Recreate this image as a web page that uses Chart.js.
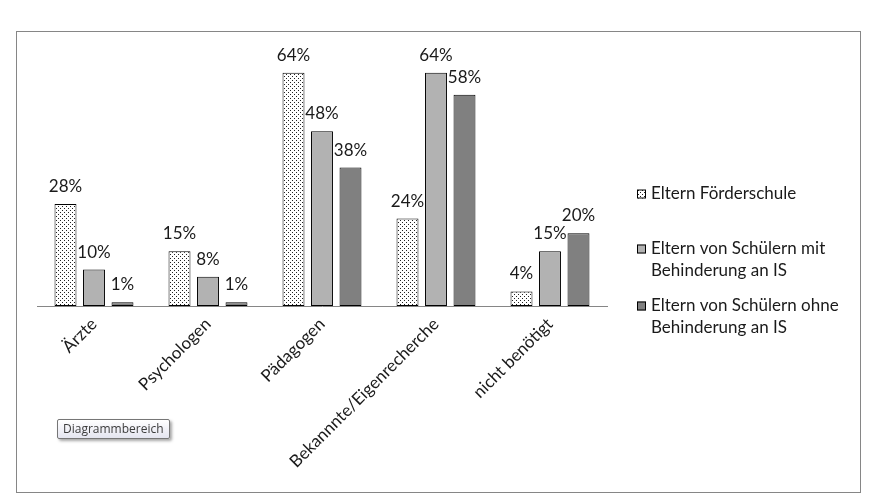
<!DOCTYPE html>
<html>
<head>
<meta charset="utf-8">
<script src="https://cdn.jsdelivr.net/npm/chart.js@4.4.1/dist/chart.umd.min.js"></script>
<style>
  html, body { margin: 0; padding: 0; background: #fff; }
  #wrap { position: relative; width: 873px; height: 501px; }
  #frame { position: absolute; left: 16px; top: 31px; width: 843px; height: 460px; border: 1px solid #868686; }
  #chart { position: absolute; left: 0; top: 0; }
  #tip {
    position: absolute; left: 57px; top: 419px; height: 18px; padding: 0 5px;
    font: 12px "Open Sans", sans-serif; line-height: 18px; color: #3c3c3c;
    border: 1px solid #767676; border-radius: 2px;
    background: linear-gradient(#ffffff, #e4e5f0);
    box-shadow: 2px 2px 3px rgba(0,0,0,0.35);
  }
</style>
</head>
<body>
<div id="wrap">
  <div id="frame"></div>
  <canvas id="chart" width="873" height="501"></canvas>
  <div id="tip">Diagrammbereich</div>
</div>
<script>
'use strict';

// ── Data ────────────────────────────────────────────────────────────────
const categories = ['Ärzte', 'Psychologen', 'Pädagogen', 'Bekannnte/Eigenrecherche', 'nicht benötigt'];
const seriesNames = [
    'Eltern Förderschule',
    'Eltern von Schülern mit Behinderung an IS',
    'Eltern von Schülern ohne Behinderung an IS'
];
const foerderschule = [28, 15, 64, 24, 4];
const mitBehinderung = [10, 8, 48, 64, 15];
const ohneBehinderung = [1, 1, 38, 58, 20];

const FONT = 'Lato, "Open Sans", sans-serif';
const FONT_SIZE = 17;

// fine dotted fill (Excel 5% pattern)
function makeDots() {
    const c = document.createElement('canvas');
    c.width = 4; c.height = 4;
    const g = c.getContext('2d');
    g.fillStyle = '#fff';
    g.fillRect(0, 0, 4, 4);
    g.fillStyle = '#222';
    g.fillRect(0, 0, 1, 1);
    g.fillRect(2, 2, 1, 1);
    return g.createPattern(c, 'repeat');
}
const dots = makeDots();

// ── Plugins ─────────────────────────────────────────────────────────────
const valueLabels = {
    id: 'valueLabels',
    afterDatasetsDraw(chart) {
        const ctx = chart.ctx;
        ctx.save();
        ctx.font = `${FONT_SIZE}px ${FONT}`;
        ctx.fillStyle = '#1a1a1a';
        ctx.textAlign = 'center';
        ctx.textBaseline = 'alphabetic';
        chart.data.datasets.forEach((ds, i) => {
            chart.getDatasetMeta(i).data.forEach((bar, j) => {
                ctx.fillText(ds.data[j] + '%', bar.x, bar.y - 12);
            });
        });
        ctx.restore();
    }
};

function wrap(ctx, text, maxW) {
    const words = text.split(' ');
    const lines = [];
    let cur = '';
    words.forEach(w => {
        const t = cur ? cur + ' ' + w : w;
        if (cur && ctx.measureText(t).width > maxW) { lines.push(cur); cur = w; }
        else cur = t;
    });
    if (cur) lines.push(cur);
    return lines;
}

const sideLegend = {
    id: 'sideLegend',
    afterDraw(chart) {
        const ctx = chart.ctx;
        const itemY = [194, 249, 306];   // middle of first line for each entry
        const lineH = 22;
        ctx.save();
        ctx.font = `${FONT_SIZE}px ${FONT}`;
        ctx.textBaseline = 'middle';
        ctx.textAlign = 'left';
        chart.data.datasets.forEach((ds, i) => {
            const y = itemY[i];
            ctx.fillStyle = ds.backgroundColor;
            ctx.fillRect(637, y - 4.5, 9, 9);
            ctx.strokeStyle = '#000';
            ctx.lineWidth = 1;
            ctx.strokeRect(637.5, y - 4, 8, 8);
            ctx.fillStyle = '#1a1a1a';
            wrap(ctx, ds.label, 205).forEach((ln, k) => ctx.fillText(ln, 651, y + k * lineH));
        });
        ctx.restore();
    }
};

// ── Chart ───────────────────────────────────────────────────────────────
const barStyle = { borderColor: '#000', borderWidth: 1, borderSkipped: false,
                   categoryPercentage: 0.75, barPercentage: 0.77 };

new Chart(document.getElementById('chart').getContext('2d'), {
    type: 'bar',
    data: {
        labels: categories,
        datasets: [
            { label: seriesNames[0], data: foerderschule, backgroundColor: dots, ...barStyle },
            { label: seriesNames[1], data: mitBehinderung, backgroundColor: '#b2b2b2', ...barStyle },
            { label: seriesNames[2], data: ohneBehinderung, backgroundColor: '#808080', ...barStyle }
        ]
    },
    options: {
        responsive: false, animation: false,
        layout: { padding: { left: 37, right: 266, top: 51, bottom: 0 } },
        plugins: { legend: { display: false }, tooltip: { enabled: false } },
        scales: {
            x: {
                grid: { display: false, drawTicks: false },
                border: { color: '#868686', width: 1 },
                ticks: {
                    autoSkip: false, minRotation: 45, maxRotation: 45, padding: 8,
                    color: '#1a1a1a', font: { family: FONT, size: FONT_SIZE }
                },
                afterFit(scale) { scale.height = 195; }
            },
            y: { display: false, min: 0, max: 70 }
        }
    },
    plugins: [valueLabels, sideLegend]
});
</script>
</body>
</html>
